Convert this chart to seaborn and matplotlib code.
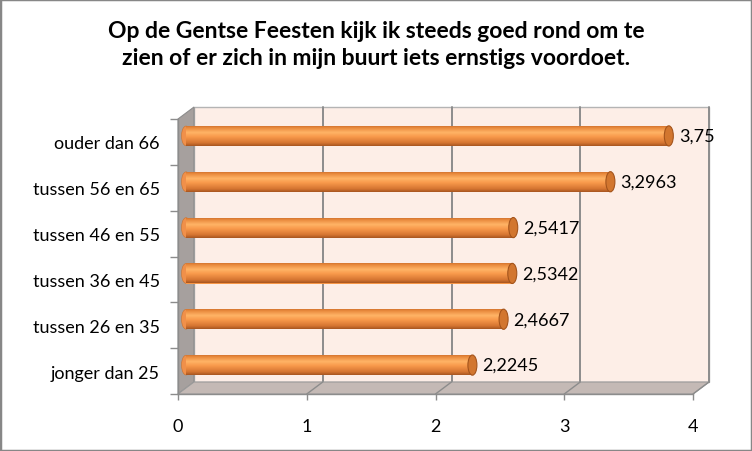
import numpy as np
import pandas as pd
import matplotlib
matplotlib.use("Agg")
import matplotlib.pyplot as plt
import seaborn as sns
from matplotlib.patches import Polygon, Rectangle, Ellipse
from matplotlib.lines import Line2D
from matplotlib.transforms import ScaledTranslation
from matplotlib.colors import LinearSegmentedColormap

# ---- data ----
categories = ["ouder dan 66", "tussen 56 en 65", "tussen 46 en 55",
              "tussen 36 en 45", "tussen 26 en 35", "jonger dan 25"]
values = [3.75, 3.2963, 2.5417, 2.5342, 2.4667, 2.2245]
value_labels = ["3,75", "3,2963", "2,5417", "2,5342", "2,4667", "2,2245"]
x_ticks = [0, 1, 2, 3, 4]
title = "Op de Gentse Feesten kijk ik steeds goed rond om te\nzien of er zich in mijn buurt iets ernstigs voordoet."

df = pd.DataFrame({"groep": categories, "score": values})

sns.set_theme(style="white")
plt.rcParams["font.family"] = ["Lato", "DejaVu Sans"]

W, H, DPI = 752, 452, 100
fig = plt.figure(figsize=(W / DPI, H / DPI), dpi=DPI)

# front plane of the 3-D box (pixels)
L, R, T, B = 178, 693, 120, 395
ax = fig.add_axes([L / W, 1 - B / H, (R - L) / W, (B - T) / H])
ax.set_facecolor("none")

depth_px = (16, 12)
dx = depth_px[0] / (R - L)
dy = depth_px[1] / (B - T)

bar_h = 0.44
sns.barplot(data=df, y="groep", x="score", orient="h", order=categories,
            color="#F79646", width=bar_h, ax=ax, saturation=1, zorder=3)
ax.set_xlim(0, 4)
ax.set_ylim(len(categories) - 0.5, -0.5)

# walls
wall_kw = dict(transform=ax.transAxes, clip_on=False)
ax.add_patch(Rectangle((dx, dy), 1, 1, facecolor="#FDEEE7", edgecolor="#B4B4B4",
                       lw=1.0, zorder=0, **wall_kw))
ax.add_patch(Polygon([(0, 0), (0, 1), (dx, 1 + dy), (dx, dy)], closed=True,
                     facecolor="#A6A09E", edgecolor="#8C8C8C", lw=0.8, zorder=1, **wall_kw))
ax.add_patch(Polygon([(0, 0), (1, 0), (1 + dx, dy), (dx, dy)], closed=True,
                     facecolor="#C4B9B5", edgecolor="#9A9A9A", lw=0.8, zorder=1, **wall_kw))
for v in x_ticks[1:]:
    xa = v / 4
    ax.add_line(Line2D([xa + dx, xa + dx], [dy, 1 + dy], color="#8C8C8C", lw=1.4,
                       zorder=0.5, **wall_kw))
    ax.add_line(Line2D([xa, xa + dx], [0, dy], color="#8C8C8C", lw=1.0,
                       zorder=1.5, **wall_kw))

# bars: shift to the middle depth and render as cylinders
shift = ScaledTranslation(8 / DPI, 6 / DPI, fig.dpi_scale_trans)
cmap = LinearSegmentedColormap.from_list(
    "cyl", [(0.0, "#C86A2A"), (0.12, "#E9893C"), (0.35, "#FFB466"),
            (0.55, "#F99A4C"), (0.85, "#D67632"), (1.0, "#A85620")])
grad = np.linspace(0, 1, 64).reshape(-1, 1)
cap_w = 9 / ((R - L) / 4)
for i, p in enumerate(list(ax.patches)):
    if not isinstance(p, Rectangle) or p.get_zorder() != 3:
        continue
    p.set_transform(ax.transData + shift)
    p.set_edgecolor("none")
    x0, y0 = p.get_x(), p.get_y()
    w, h = p.get_width(), p.get_height()
    # left rounded end
    ax.add_patch(Ellipse((x0, y0 + h / 2), cap_w, h * 0.98, facecolor="#F0904A",
                         edgecolor="#C8722E", lw=0.4, zorder=2.9,
                         transform=ax.transData + shift, clip_on=False))
    im = ax.imshow(grad, cmap=cmap, aspect="auto", origin="upper",
                   extent=(x0, x0 + w, y0 + h, y0), zorder=3.1, interpolation="bilinear")
    im.set_transform(ax.transData + shift)
    im.set_clip_path(p)
    # right end cap
    ax.add_patch(Ellipse((x0 + w, y0 + h / 2), cap_w, h, facecolor="#D2762F",
                         edgecolor="#A4541C", lw=0.8, zorder=3.2,
                         transform=ax.transData + shift, clip_on=False))

ax.set_xlim(0, 4)
ax.set_ylim(len(categories) - 0.5, -0.5)

# value labels
for i, (v, lab) in enumerate(zip(values, value_labels)):
    ax.annotate(lab, xy=(v, i), xytext=(8 + 10, 6), textcoords="offset pixels",
                ha="left", va="center", fontsize=13, color="#000000", zorder=5)

# axes styling
for s in ["top", "right"]:
    ax.spines[s].set_visible(False)
for s in ["left", "bottom"]:
    ax.spines[s].set_color("#8C8C8C")
    ax.spines[s].set_linewidth(1.0)
    ax.spines[s].set_zorder(2)

ax.set_xticks(x_ticks)
ax.set_xticklabels([str(t) for t in x_ticks])
ax.set_yticks(range(len(categories)))
ax.set_yticklabels(categories)
ax.set_yticks(np.arange(-0.5, len(categories)), minor=True)
ax.tick_params(axis="x", which="major", length=4, width=1, color="#8C8C8C",
               pad=13, labelsize=13, labelcolor="#000000", bottom=True)
ax.tick_params(axis="y", which="major", length=0, pad=13, labelsize=13,
               labelcolor="#000000")
ax.tick_params(axis="y", which="minor", length=6, width=1, color="#8C8C8C", left=True)
ax.set_xlabel("")
ax.set_ylabel("")
ax.grid(False)

fig.text(0.5, 1 - 45 / H, title, ha="center", va="center", fontsize=16.5,
         fontweight="bold", color="#000000", linespacing=1.3)

fig.patches.append(Rectangle((0, 0), 1, 1, transform=fig.transFigure, fill=False,
                             edgecolor="#878787", lw=2.5))

fig.savefig("out.png", dpi=DPI)
